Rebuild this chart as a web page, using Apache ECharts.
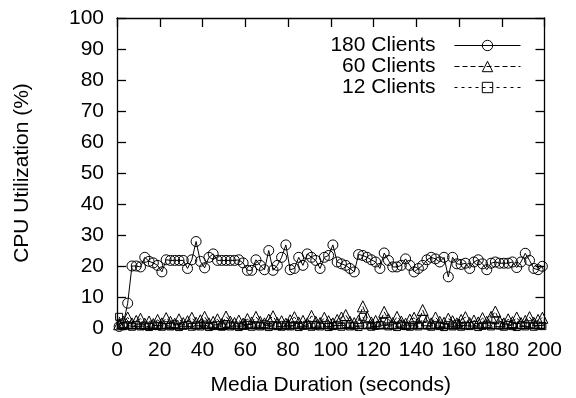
<!DOCTYPE html>
<html><head><meta charset="utf-8">
<script src="https://cdn.jsdelivr.net/npm/echarts@6/dist/echarts.min.js"></script>
<style>html,body{margin:0;padding:0;background:#fff}#c{width:576px;height:398px}</style>
</head><body><div id="c"></div>
<script>
// Sample times (seconds)
const times = [];
for (let t = 1; t <= 199; t += 2) times.push(t);
const seriesNames = ['180 Clients', '60 Clients', '12 Clients'];
const xTicks = [0,20,40,60,80,100,120,140,160,180,200];
const yTicks = [0,10,20,30,40,50,60,70,80,90,100];

const clients180 = [
 0.5, 1.5, 8.0,
 20.0, 20.0, 19.7, 22.8, 21.5, 21.0, 20.2, 18.1, 22.0, 21.8,
 21.8, 21.8, 21.8, 19.2, 22.0, 27.9, 21.5, 19.4, 22.8, 23.9,
 21.8, 21.8, 21.8, 21.8, 21.8, 22.0, 21.0, 18.6, 18.6, 22.0,
 20.2, 18.8, 25.0, 18.6, 20.2, 22.8, 26.8, 18.8, 19.2, 22.8,
 20.2, 23.9, 22.8, 21.8, 19.2, 22.8, 23.4, 26.8, 21.3, 20.7,
 20.2, 19.2, 18.1, 23.7, 23.4, 22.8, 22.0, 21.3, 19.2, 24.2,
 21.8, 19.7, 19.7, 20.2, 22.3, 20.2, 18.1, 19.2, 20.2, 22.0,
 22.8, 22.3, 21.3, 22.8, 16.5, 22.8, 20.7, 20.5, 20.9, 19.2,
 21.3, 22.0, 20.7, 18.8, 20.9, 21.3, 20.9, 20.9, 20.9, 21.3,
 19.5, 21.3, 24.1, 21.8, 19.2, 18.8, 19.9
];
const clients60 = [
 1.2, 2.0, 3.4, 1.5, 2.3, 3.0, 1.4, 2.1, 1.3, 2.6,
 1.5, 3.2, 2.0, 1.4, 2.8, 1.6, 2.2, 3.3, 1.7, 2.5,
 3.6, 1.5, 2.0, 2.8, 1.3, 3.7, 2.1, 1.6, 2.4, 1.4,
 2.9, 1.8, 3.6, 2.0, 1.5, 2.7, 3.8, 1.6, 2.2, 1.4,
 2.5, 3.5, 1.8, 2.3, 1.5, 3.9, 2.0, 1.6, 3.3, 2.2,
 1.5, 2.6, 3.4, 4.2, 2.0, 1.6, 2.4, 7.0, 3.5, 1.8,
 2.3, 1.5, 5.2, 2.8, 1.6, 3.6, 2.1, 1.4, 2.7, 3.3,
 1.6, 5.8, 2.5, 1.5, 3.4, 2.0, 1.7, 3.0, 2.2, 1.5,
 2.6, 3.5, 1.6, 2.4, 1.8, 3.2, 2.0, 3.6, 5.3, 2.2,
 1.5, 2.8, 1.9, 3.4, 1.6, 2.3, 3.5, 1.7, 2.6, 3.3
];
const clients12 = [
 3.6, 0.6, 0.9, 0.4, 1.0, 0.5, 0.8, 0.3, 1.1, 0.6,
 0.4, 0.9, 0.5, 1.2, 0.3, 0.7, 1.0, 0.4, 0.8, 0.5,
 1.1, 0.3, 0.6, 0.9, 0.4, 1.3, 0.5, 0.8, 0.3, 0.7,
 1.0, 0.4, 0.9, 0.5, 1.2, 0.3, 0.8, 0.6, 0.4, 1.0,
 0.5, 0.9, 0.3, 0.7, 1.1, 0.4, 0.8, 0.5, 1.0, 0.3,
 0.6, 0.9, 0.4, 1.2, 0.5, 0.8, 0.3, 3.6, 0.9, 0.4,
 0.7, 1.0, 2.0, 0.5, 0.8, 0.3, 1.1, 0.6, 0.4, 0.9,
 0.5, 3.0, 0.8, 0.4, 1.0, 0.6, 0.3, 0.9, 0.5, 1.2,
 0.4, 0.8, 0.6, 1.0, 0.3, 0.7, 1.1, 0.5, 2.5, 0.8,
 0.4, 1.0, 0.6, 0.3, 0.9, 0.5, 1.2, 0.4, 0.8, 0.6
];

const pair = vals => vals.map((v, i) => [times[i], v]);
const FONT = 'Liberation Sans';
const FS = 21;

const chart = echarts.init(document.getElementById('c'), null, {renderer: 'canvas'});
const baseX = {
  type: 'value', min: xTicks[0], max: xTicks[xTicks.length-1], interval: xTicks[1]-xTicks[0],
  axisLine: {show: true, onZero: false, lineStyle: {color: '#000', width: 1.3}},
  axisTick: {show: true, inside: true, length: 9, lineStyle: {color: '#000', width: 1.3}},
  splitLine: {show: false}
};
const baseY = {
  type: 'value', min: yTicks[0], max: yTicks[yTicks.length-1], interval: yTicks[1]-yTicks[0],
  axisLine: {show: true, onZero: false, lineStyle: {color: '#000', width: 1.3}},
  axisTick: {show: true, inside: true, length: 9, lineStyle: {color: '#000', width: 1.3}},
  splitLine: {show: false}
};
const mk = (name, data, symbol, size, dash) => ({
  name, type: 'line', data: pair(data), symbol, symbolSize: size,
  showSymbol: true, animation: false,
  lineStyle: {color: '#000', width: 1, type: dash},
  itemStyle: {color: 'rgba(0,0,0,0)', borderColor: '#000', borderWidth: 1},
  emphasis: {disabled: true}
});
const legendBase = (name, top) => ({
  data: [name], right: 50, top, orient: 'horizontal', align: 'right',
  itemWidth: 66, itemHeight: 13, itemGap: 0, selectedMode: false,
  lineStyle: {width: 1},
  itemStyle: {borderWidth: 1},
  textStyle: {fontFamily: FONT, fontSize: FS, color: '#000', padding: [0, 14, 0, 0]}
});
chart.setOption({
  animation: false,
  backgroundColor: '#fff',
  grid: {left: 117, right: 31.5, top: 18, bottom: 70, containLabel: false, outerBoundsMode: 'none'},
  legend: [legendBase(seriesNames[0], 30), legendBase(seriesNames[1], 51), legendBase(seriesNames[2], 72)],
  xAxis: [
    Object.assign({}, baseX, {position: 'bottom', name: 'Media Duration (seconds)', nameLocation: 'middle', nameGap: 47,
      nameTextStyle: {fontFamily: FONT, fontSize: FS, color: '#000'},
      axisLabel: {fontFamily: FONT, fontSize: FS, color: '#000', margin: 12}}),
    Object.assign({}, baseX, {position: 'top', axisLabel: {show: false}})
  ],
  yAxis: [
    Object.assign({}, baseY, {position: 'left', name: 'CPU Utilization (%)', nameLocation: 'middle', nameGap: 84,
      nameTextStyle: {fontFamily: FONT, fontSize: FS, color: '#000'},
      axisLabel: {fontFamily: FONT, fontSize: FS, color: '#000', margin: 13}}),
    Object.assign({}, baseY, {position: 'right', axisLabel: {show: false}})
  ],
  series: [
    mk(seriesNames[0], clients180, 'circle', 10, 'solid'),
    mk(seriesNames[1], clients60, 'triangle', 11, [5, 3]),
    mk(seriesNames[2], clients12, 'rect', 7, [3, 4])
  ]
});
</script></body></html>
